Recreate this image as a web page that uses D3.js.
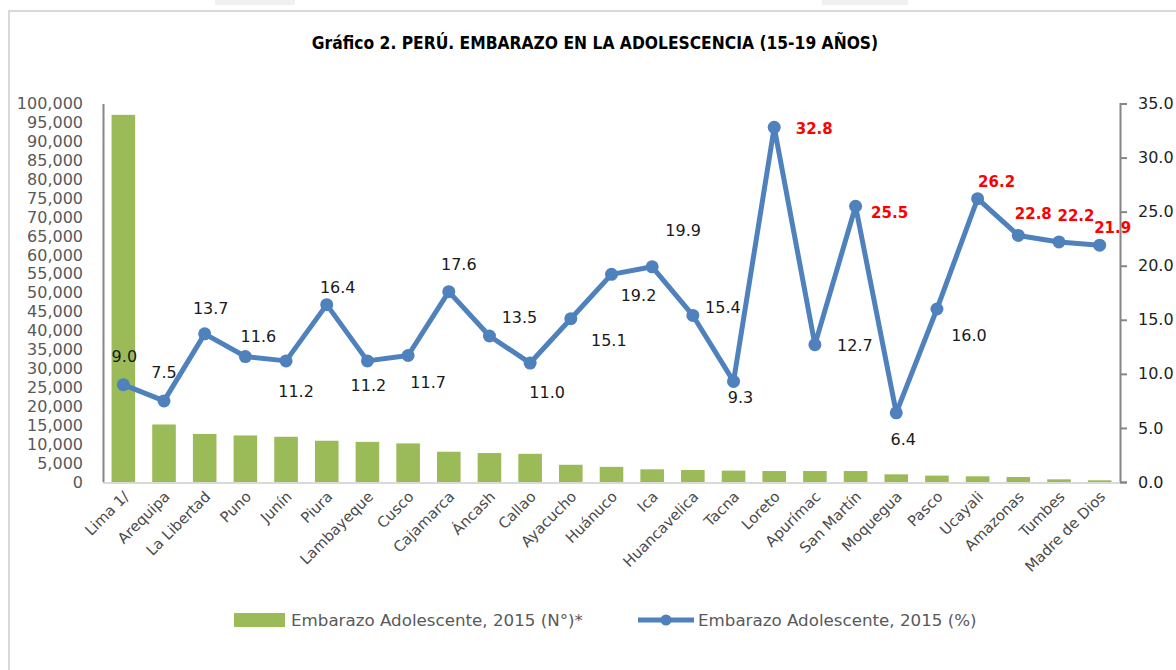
<!DOCTYPE html>
<html>
<head>
<meta charset="utf-8">
<script src="https://cdn.jsdelivr.net/npm/d3@7"></script>
<style>
  body { margin: 0; background: #fff; }
  #chart text { font-family: "DejaVu Sans", sans-serif; }
</style>
</head>
<body>
<div id="chart"></div>
<script>

// data
var regions = ["Lima 1/", "Arequipa", "La Libertad", "Puno", "Junín", "Piura", "Lambayeque", "Cusco",
    "Cajamarca", "Áncash", "Callao", "Ayacucho", "Huánuco", "Ica", "Huancavelica", "Tacna", "Loreto",
    "Apurímac", "San Martín", "Moquegua", "Pasco", "Ucayali", "Amazonas", "Tumbes", "Madre de Dios"];

var counts = [97000, 15200, 12700, 12300, 11950, 10900, 10600, 10200, 8000, 7650, 7450, 4550, 4000,
    3350, 3170, 3000, 2900, 2900, 2900, 2030, 1690, 1500, 1320, 710, 450];

var percents = [9.0, 7.5, 13.7, 11.6, 11.2, 16.4, 11.2, 11.7, 17.6, 13.5, 11.0, 15.1, 19.2, 19.9,
    15.4, 9.3, 32.8, 12.7, 25.5, 6.4, 16.0, 26.2, 22.8, 22.2, 21.9];

var leftTicks = d3.range(0, 100001, 5000);
var rightTicks = d3.range(0, 35.1, 5);

var title = "Gráfico 2. PERÚ. EMBARAZO EN LA ADOLESCENCIA (15-19 AÑOS)";
var legendBars = "Embarazo Adolescente, 2015 (N°)*";
var legendLine = "Embarazo Adolescente, 2015 (%)";

// label placement (pixels from each point, placed by hand like in the original)
var labelDx = [1, 0, 6, 13, 10, 11, 1, 20, 10, 30, 17, 38, 27, 31, 30, 7, 40, 40, 34, 7, 32, 19, 15, 17, 13];
var labelDy = [-28, -28, -25, -20, 31, -17, 25, 27, -27, -19, 29, 22, 21, -36, -8, 16, 1, 1, 7, 27, 26, -17, -22, -26, -17];

// parameters
var width = 1176,
    height = 670,
    left = 103,
    right = 1120,
    top_ = 103.5,
    bottom = 482;

var svg = d3.select("#chart")
    .append("svg")
    .attr("width", width)
    .attr("height", height);

// frame
svg.append("rect").attr("x", 215).attr("y", 0).attr("width", 80).attr("height", 5).attr("fill", "#f0f0f0");
svg.append("rect").attr("x", 822).attr("y", 0).attr("width", 86).attr("height", 5).attr("fill", "#f0f0f0");
svg.append("path")
    .attr("d", "M9," + height + "V11H" + width)
    .attr("fill", "none")
    .attr("stroke", "#d9d9d9")
    .attr("stroke-width", 2);

// title, squeezed a bit to look like the narrow original face
svg.append("text")
    .attr("transform", "translate(595,49) scale(0.915,1)")
    .attr("text-anchor", "middle")
    .style("font-size", "17px")
    .style("font-weight", "bold")
    .attr("fill", "#000")
    .text(title);

// scales
var x = d3.scaleBand()
    .domain(regions)
    .range([left, right])
    .paddingInner(0.42)
    .paddingOuter(0.21);

var yLeft = d3.scaleLinear().domain([0, 100000]).range([bottom, top_]);
var yRight = d3.scaleLinear().domain([0, 35]).range([bottom, top_]);

// bars
svg.append("g").selectAll("rect")
    .data(counts)
    .enter()
    .append("rect")
    .attr("x", function (d, i) { return x(regions[i]); })
    .attr("y", function (d) { return yLeft(d); })
    .attr("width", x.bandwidth())
    .attr("height", function (d) { return bottom - yLeft(d); })
    .attr("fill", "#9bbb59");

// axes
var axisL = svg.append("g")
    .attr("transform", "translate(" + left + ",0)")
    .call(d3.axisLeft(yLeft).tickValues(leftTicks).tickSize(0).tickPadding(20).tickFormat(d3.format(",")));
axisL.select(".domain").attr("stroke", "#868686").attr("stroke-width", 2);
axisL.selectAll("text").attr("fill", "#595959").style("font-size", "16px");

var axisR = svg.append("g")
    .attr("transform", "translate(" + right + ",0)")
    .call(d3.axisRight(yRight).tickValues(rightTicks).tickSize(7).tickPadding(11).tickFormat(d3.format(".1f")));
axisR.select(".domain").attr("stroke", "#868686").attr("stroke-width", 2);
axisR.selectAll(".tick line").attr("stroke", "#868686").attr("stroke-width", 2);
axisR.selectAll("text").attr("fill", "#1f1f1f").style("font-size", "16px");

svg.append("line")
    .attr("x1", left).attr("x2", right)
    .attr("y1", bottom + 1).attr("y2", bottom + 1)
    .attr("stroke", "#d9d9d9")
    .attr("stroke-width", 2);

svg.append("g").selectAll("text")
    .data(regions)
    .enter()
    .append("text")
    .attr("transform", function (d) {
        return "translate(" + (x(d) + x.bandwidth() / 2 + 3) + "," + (bottom + 12) + ") rotate(-45)";
    })
    .attr("text-anchor", "end")
    .attr("dy", "0.35em")
    .attr("fill", "#4a4a4a")
    .style("font-size", "14.8px")
    .text(function (d) { return d; });

// line
var cx = function (d, i) { return x(regions[i]) + x.bandwidth() / 2; };

var line = d3.line()
    .x(cx)
    .y(function (d) { return yRight(d); });

svg.append("path")
    .datum(percents)
    .attr("d", line)
    .attr("fill", "none")
    .attr("stroke", "#4f81bd")
    .attr("stroke-width", 5)
    .attr("stroke-linejoin", "round");

svg.append("g").selectAll("circle")
    .data(percents)
    .enter()
    .append("circle")
    .attr("cx", cx)
    .attr("cy", function (d) { return yRight(d); })
    .attr("r", 6.5)
    .attr("fill", "#4f81bd");

svg.append("g").selectAll("text")
    .data(percents)
    .enter()
    .append("text")
    .attr("x", function (d, i) { return cx(d, i) + labelDx[i]; })
    .attr("y", function (d, i) { return yRight(d) + labelDy[i]; })
    .attr("dy", "0.35em")
    .attr("text-anchor", "middle")
    .attr("fill", function (d) { return d > 20 ? "#ff0000" : "#1a1a1a"; })
    .style("font-weight", function (d) { return d > 20 ? "bold" : "normal"; })
    .style("font-size", function (d) { return d > 20 ? "15px" : "16px"; })
    .text(function (d) { return d3.format(".1f")(d); });

// legend
var legend = svg.append("g");
legend.append("rect")
    .attr("x", 234).attr("y", 613).attr("width", 51).attr("height", 14)
    .attr("fill", "#9bbb59");
legend.append("text")
    .attr("x", 291).attr("y", 620).attr("dy", "0.35em")
    .attr("fill", "#595959")
    .style("font-size", "16.7px")
    .text(legendBars);
legend.append("line")
    .attr("x1", 638).attr("x2", 694).attr("y1", 620).attr("y2", 620)
    .attr("stroke", "#4f81bd").attr("stroke-width", 5);
legend.append("circle")
    .attr("cx", 666).attr("cy", 620).attr("r", 5.5)
    .attr("fill", "#4f81bd");
legend.append("text")
    .attr("x", 698).attr("y", 620).attr("dy", "0.35em")
    .attr("fill", "#595959")
    .style("font-size", "16.7px")
    .text(legendLine);

</script>
</body>
</html>
